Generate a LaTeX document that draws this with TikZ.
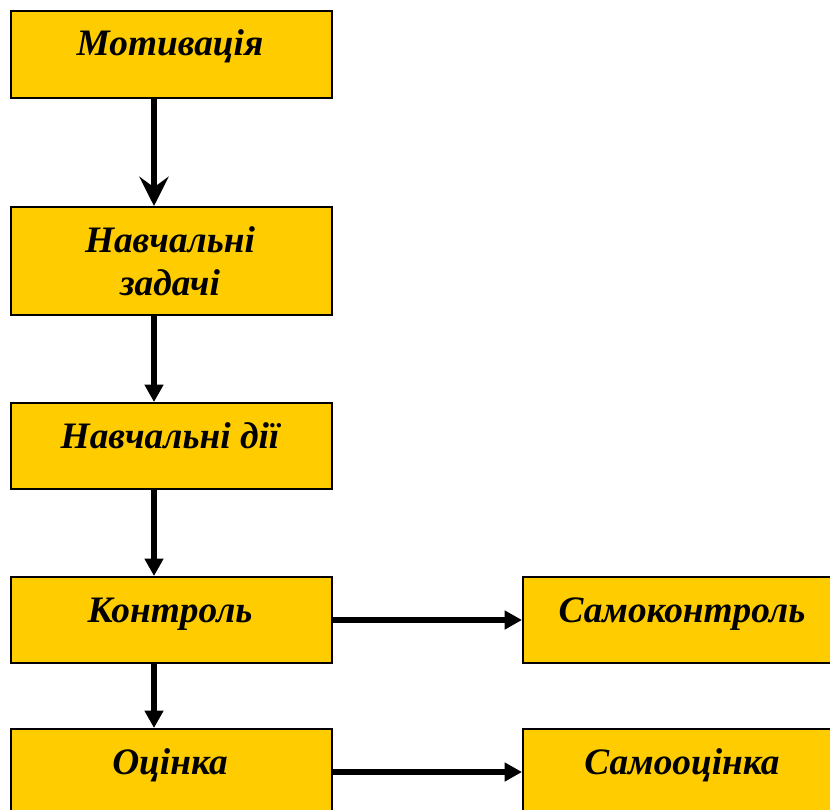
\documentclass[tikz,border=0pt]{standalone}
\usepackage{fontspec}
\setmainfont{Liberation Serif}
\usetikzlibrary{arrows.meta}
\definecolor{boxfill}{HTML}{FFCC00}
\begin{document}
\begin{tikzpicture}[x=0.75pt,y=-0.75pt,
  box/.style={draw=black,line width=1.5pt,fill=boxfill,minimum width=240.75pt,inner sep=0pt,anchor=north west},
  txt/.style={font=\fontsize{28}{32.25}\selectfont\bfseries\itshape,anchor=base,align=center,inner sep=0pt},
  conn/.style={line width=4.2pt,-{Triangle[length=13pt,width=13.5pt]}},
  conna/.style={line width=4.2pt,-{Stealth[length=22pt,width=22pt,inset=8pt]}}]
\useasboundingbox (0,0) rectangle (830,809);
\clip (0,0) rectangle (830,809);
\node[box,minimum height=65.25pt] (b1) at (10,10) {};
\node[box,minimum height=81pt] (b2) at (10,206) {};
\node[box,minimum height=64.5pt] (b3) at (10,402) {};
\node[box,minimum height=64.5pt] (b4) at (10,576) {};
\node[box,minimum height=64.5pt] (b5) at (10,728) {};
\node[box,minimum height=64.5pt] (r1) at (522,576) {};
\node[box,minimum height=64.5pt] (r2) at (522,728) {};
\node[txt] (t1) at (170,56) {Мотивація};
\node[txt] (t2) at (170,295) {Навчальні\\задачі};
\node[txt] (t3) at (170,448) {Навчальні дії};
\node[txt] (t4) at (170,622) {Контроль};
\node[txt] (t5) at (170,774) {Оцінка};
\node[txt] (t6) at (682,622) {Самоконтроль};
\node[txt] (t7) at (682,774) {Самооцінка};
\draw[conna] ([xshift=108pt]b1.south west) -- ([xshift=108pt]b2.north west);
\draw[conn] ([xshift=108pt]b2.south west) -- ([xshift=108pt]b3.north west);
\draw[conn] ([xshift=108pt]b3.south west) -- ([xshift=108pt]b4.north west);
\draw[conn] ([xshift=108pt]b4.south west) -- ([xshift=108pt]b5.north west);
\draw[conn] (b4.east) -- (r1.west);
\draw[conn] (b5.east) -- (r2.west);
\end{tikzpicture}
\end{document}
